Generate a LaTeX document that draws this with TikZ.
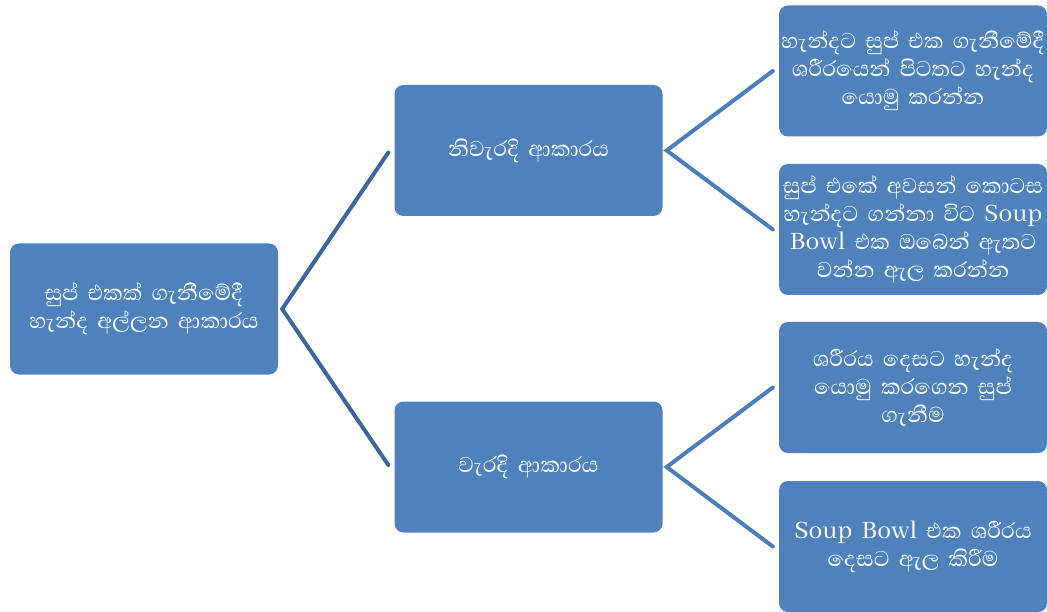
\documentclass[tikz,border=0pt]{standalone}
\usepackage{fontspec}
\newfontfamily\sinhala[Script=Sinhala]{Abhaya Libre}
\definecolor{boxblue}{HTML}{4F81BD}
\definecolor{linkdark}{HTML}{3C679E}
\definecolor{linklight}{HTML}{4A7EBB}
\begin{document}
\begin{tikzpicture}[x=1pt,y=-1pt]
	\tikzset{box/.style={fill=boxblue, rounded corners=9pt, minimum width=268pt, minimum height=131pt,
			text width=266pt, align=center, inner sep=0pt, text=white,
			font=\sinhala\fontsize{27.5}{28}\selectfont},
		link/.style={line width=4pt, line cap=round}}
	\useasboundingbox (0,0) rectangle (1047,612);
	% main and middle boxes
	\node[box] (root) at (144,309) {සුප් එකක් ගැනීමේදී\\හැන්ද අල්ලන ආකාරය};
	\node[box] (right) at (528.5,150.5) {නිවැරදි ආකාරය};
	\node[box] (wrong) at (528.5,467) {වැරදි ආකාරය};
	% leaves
	\node[box] (r1) at (913,71) {හැන්දට සුප් එක ගැනීමේදී\\ශරීරයෙන් පිටතට හැන්ද\\යොමු කරන්න};
	\node[box] (r2) at (913,229.5) {සුප් එකේ අවසන් කොටස\\හැන්දට ගන්නා විට Soup\\Bowl එක ඔබෙන් ඇතට\\වන්න ඇල කරන්න};
	\node[box] (w1) at (913,387.5) {ශරීරය දෙසට හැන්ද\\යොමු කරගෙන සුප්\\ගැනීම};
	\node[box] (w2) at (913,546.5) {Soup Bowl එක ශරීරය\\දෙසට ඇල කිරීම};
	\coordinate (rootj) at ([xshift=4pt]root.east);
	\coordinate (rightj) at ([xshift=4pt]right.east);
	\coordinate (wrongj) at ([xshift=4pt]wrong.east);
	\draw[link, linkdark] ([xshift=-6pt,yshift=-2pt]right.west) -- (rootj) -- ([xshift=-6pt,yshift=2pt]wrong.west);
	\draw[link, linklight] ([xshift=-6pt]r1.west) -- (rightj) -- ([xshift=-6pt]r2.west);
	\draw[link, linklight] ([xshift=-6pt]w1.west) -- (wrongj) -- ([xshift=-6pt]w2.west);
\end{tikzpicture}
\end{document}
